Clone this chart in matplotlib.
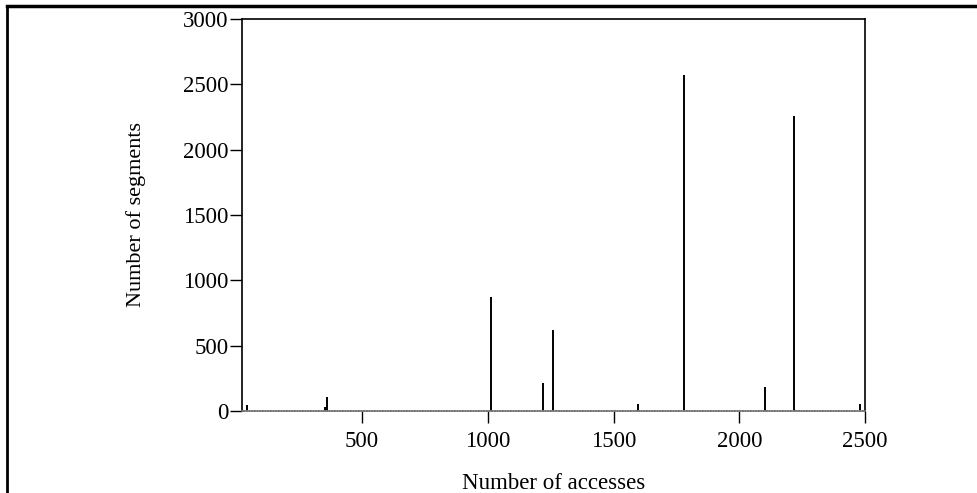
import matplotlib
matplotlib.use("Agg")
import matplotlib.pyplot as plt
from matplotlib.lines import Line2D

# Data
accesses = [43, 353, 361, 1013, 1218, 1258, 1597, 1782, 2102, 2219, 2480]
segments = [45, 30, 110, 870, 215, 620, 53, 2575, 180, 2258, 53]
xticks = [500, 1000, 1500, 2000, 2500]
yticks = [0, 500, 1000, 1500, 2000, 2500, 3000]

plt.rcParams['font.family'] = ['Liberation Serif', 'DejaVu Serif']

fig = plt.figure(figsize=(9.77, 4.93), dpi=100)
ax = fig.add_axes([0.2477, 0.1663, 0.8854 - 0.2477, 0.9615 - 0.1663])

ax.vlines(accesses, 0, segments, colors='black', linewidth=1.4)

ax.set_xlim(23, 2500)
ax.set_ylim(0, 3000)
ax.set_xticks(xticks)
ax.set_yticks(yticks)
ax.tick_params(direction='out', length=8.6, width=1.0, labelsize=16.5)
ax.tick_params(axis='y', pad=1)
ax.tick_params(axis='x', pad=6)

for s in ['left', 'top', 'right']:
    ax.spines[s].set_linewidth(1.2)
ax.spines['bottom'].set_color('#777777')
ax.spines['bottom'].set_linestyle((0, (1, 0.6)))
ax.spines['bottom'].set_linewidth(1.2)

ax.set_xlabel('Number of accesses', fontsize=16.5, labelpad=15)
ax.set_ylabel('Number of segments', fontsize=16, labelpad=27)

# outer frame (top and left)
fig.add_artist(Line2D([7 / 977, 1.0], [1 - 6 / 493, 1 - 6 / 493], color='black', linewidth=2.5,
                      transform=fig.transFigure))
fig.add_artist(Line2D([7 / 977, 7 / 977], [0, 1 - 6 / 493], color='black', linewidth=2.0,
                      transform=fig.transFigure))

fig.savefig('out.png', dpi=100)
